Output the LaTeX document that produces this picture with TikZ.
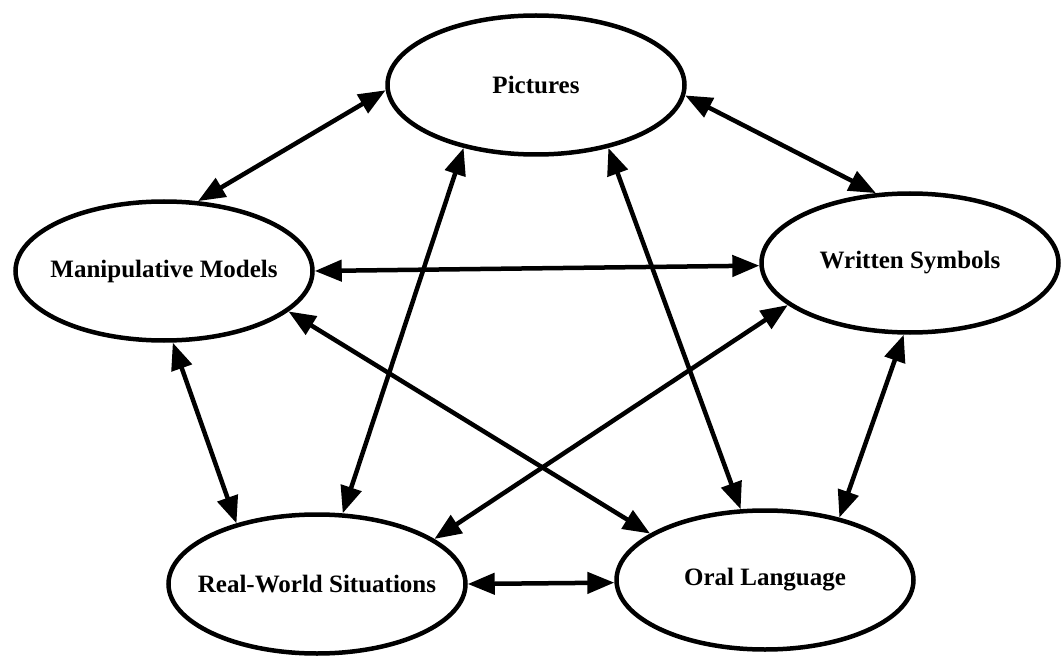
\documentclass[tikz,border=0pt]{standalone}
\usepackage{fontspec}
\setmainfont{Liberation Serif}
\usetikzlibrary{shapes.geometric,arrows.meta}
\newcommand{\lbl}[1]{\makebox[0pt]{#1}}
\tikzset{
  bubble/.style={ellipse,draw,line width=4.5pt,minimum width=297pt,minimum height=139pt,inner sep=0pt,
    font=\fontsize{25}{30}\selectfont\bfseries},
  link/.style={line width=4.5pt,{Triangle[length=27pt,width=21pt]}-{Triangle[length=27pt,width=21pt]}}
}
\begin{document}
\begin{tikzpicture}[x=1pt,y=-1pt]
\useasboundingbox (0,0) rectangle (1061,658);
\node[bubble] (pic) at (536,85) {\lbl{Pictures}};
\node[bubble] (man) at (164,271) {\lbl{Manipulative Models}};
\node[bubble] (wri) at (910,263) {\lbl{Written Symbols}};
\node[bubble] (rea) at (317,584) {\lbl{Real-World Situations}};
\node[bubble] (ora) at (765,580) {\lbl{Oral Language}};
\draw[link] (man.64) -- (pic.182);
\draw[link] (pic.356) -- (wri.116);
\draw[link] (rea.70) -- (pic.221);
\draw[link] (pic.319) -- (ora.109);
\draw[link] (man.0) -- (wri.181);
\draw[link] (man.-18) -- (ora.158);
\draw[link] (man.277) -- (rea.143);
\draw[link] (wri.199) -- (rea.21);
\draw[link] (wri.265) -- (ora.40);
\draw[link] (rea.0) -- (ora.181);
\end{tikzpicture}
\end{document}
